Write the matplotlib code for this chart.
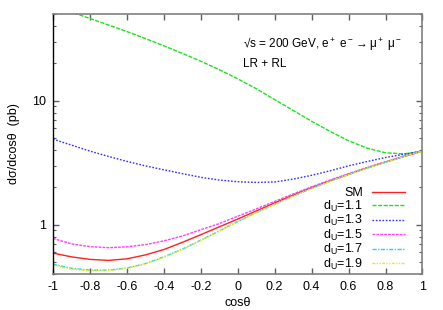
import numpy as np
import matplotlib
matplotlib.use("Agg")
import matplotlib.pyplot as plt
from matplotlib.ticker import LogLocator, FixedLocator, NullFormatter

plt.rcParams["font.family"] = ["Liberation Sans", "DejaVu Sans"]
plt.rcParams["mathtext.fontset"] = "custom"
plt.rcParams["mathtext.rm"] = "Liberation Sans"
plt.rcParams["mathtext.it"] = "Liberation Sans:italic"
plt.rcParams["font.size"] = 9

# cos(theta) grid and curves
cos_theta = np.round(np.arange(-1.0, 1.01, 0.1), 2)

sm = [0.59, 0.55, 0.525, 0.515, 0.53, 0.57, 0.63, 0.72, 0.83, 0.96, 1.11,
      1.29, 1.50, 1.73, 1.99, 2.26, 2.55, 2.87, 3.20, 3.55, 3.92]
du_11 = [57.7, 51.8, 46.0, 40.8, 36.1, 31.7, 27.7, 24.1, 20.8, 17.8, 15.0,
         12.5, 10.2, 8.34, 6.82, 5.65, 4.75, 4.14, 3.80, 3.72, 3.92]
du_13 = [4.90, 4.38, 3.92, 3.55, 3.24, 2.98, 2.77, 2.58, 2.41, 2.29, 2.22,
         2.19, 2.21, 2.33, 2.50, 2.72, 2.98, 3.23, 3.48, 3.70, 3.92]
du_15 = [0.775, 0.70, 0.665, 0.652, 0.663, 0.69, 0.74, 0.81, 0.91, 1.02, 1.17,
         1.34, 1.54, 1.77, 2.02, 2.29, 2.58, 2.89, 3.22, 3.57, 3.92]
du_17 = [0.48, 0.445, 0.43, 0.43, 0.447, 0.485, 0.55, 0.635, 0.75, 0.89, 1.06,
         1.25, 1.46, 1.70, 1.96, 2.24, 2.54, 2.86, 3.19, 3.55, 3.92]
du_19 = [0.47, 0.438, 0.424, 0.426, 0.444, 0.482, 0.545, 0.63, 0.745, 0.885, 1.055,
         1.245, 1.455, 1.695, 1.955, 2.235, 2.535, 2.855, 3.19, 3.55, 3.92]

labels = ["SM", "d$_{\\rm U}$=1.1", "d$_{\\rm U}$=1.3", "d$_{\\rm U}$=1.5",
          "d$_{\\rm U}$=1.7", "d$_{\\rm U}$=1.9"]
series = [sm, du_11, du_13, du_15, du_17, du_19]
colors = ["#ff2020", "#20e020", "#3030ff", "#ff40ff", "#20d8e0", "#e8e820"]
dashes = [(), (3, 1), (1.2, 1.2), (2, 0.8), (3, 1, 1, 1), (2, 1, 1, 1, 1, 1)]

x_ticks = [-1, -0.8, -0.6, -0.4, -0.2, 0, 0.2, 0.4, 0.6, 0.8, 1]
x_tick_labels = ["-1", "-0.8", "-0.6", "-0.4", "-0.2", "0", "0.2", "0.4", "0.6", "0.8", "1"]

fig = plt.figure(figsize=(4.43, 3.10), dpi=100)
ax = fig.add_axes([0.1196, 0.1161, 0.8341, 0.8387])

for ys, lab, col, ds in zip(series, labels, colors, dashes):
    line, = ax.plot(cos_theta, ys, color=col, lw=1.0, label=lab)
    if ds:
        line.set_dashes(ds)

ax.set_yscale("log")
ax.set_xlim(-1, 1)
ax.set_ylim(0.4, 50)
ax.set_xticks(x_ticks)
ax.set_xticklabels(x_tick_labels)
ax.yaxis.set_major_locator(FixedLocator([1, 10]))
ax.set_yticklabels(["1", "10"])
ax.yaxis.set_minor_locator(LogLocator(base=10, subs=np.arange(2, 10)))
ax.yaxis.set_minor_formatter(NullFormatter())

ax.tick_params(which="both", direction="in", top=True, right=True, colors="#606060",
               labelcolor="black", pad=5)
ax.tick_params(which="major", length=4, width=1)
ax.tick_params(which="minor", length=2.5, width=0.8)

for side in ["top", "bottom", "right"]:
    ax.spines[side].set_color("#808080")
    ax.spines[side].set_linewidth(1.2)
ax.spines["left"].set_color("black")
ax.spines["left"].set_linewidth(1.0)

ax.set_xlabel("cos\u03b8", labelpad=3)
ax.set_ylabel("d\u03c3/dcos\u03b8  (pb)", labelpad=9)

ax.text(0.514, 0.888, "\u221as = 200 GeV, e$^+$ e$^-$$\\rightarrow$\u03bc$^+$ \u03bc$^-$",
        transform=ax.transAxes, ha="left", va="center", fontsize=8.5)
ax.text(0.514, 0.808, "LR + RL", transform=ax.transAxes, ha="left", va="center",
        fontsize=8.5)

leg = ax.legend(loc="lower right", bbox_to_anchor=(0.965, -0.01), markerfirst=False,
                frameon=False, handlelength=2.6, handletextpad=0.7,
                labelspacing=-0.05, borderaxespad=0.0, fontsize=9)

fig.savefig("out.png", dpi=100)
